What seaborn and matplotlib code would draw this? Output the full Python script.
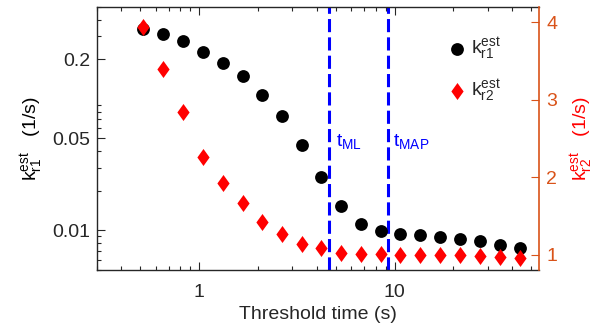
import matplotlib
matplotlib.use("Agg")
import matplotlib.pyplot as plt
import matplotlib.ticker as mticker
import matplotlib.transforms as mtransforms
import seaborn as sns
import pandas as pd

# ---- data ----
threshold_time = [0.517, 0.654, 0.828, 1.048, 1.327, 1.667, 2.100, 2.638, 3.339, 4.224,
                  5.346, 6.709, 8.49, 10.68, 13.55, 17.15, 21.6, 27.23, 34.45, 43.6]
k_r1 = [0.340, 0.312, 0.277, 0.229, 0.188, 0.150, 0.107, 0.0743, 0.0445, 0.0255,
        0.01524, 0.01111, 0.00988, 0.00944, 0.00916, 0.00889, 0.00854, 0.00824, 0.00778, 0.00733]
k_r2 = [3.94, 3.40, 2.847, 2.264, 1.920, 1.661, 1.422, 1.263, 1.142, 1.078,
        1.026, 1.013, 1.004, 1.0, 1.0, 1.0, 0.99, 0.985, 0.97, 0.95]
t_lines = [4.62, 9.29]
t_labels = [r"t$_{\mathregular{ML}}$", r"t$_{\mathregular{MAP}}$"]
t_label_x = [5.0, 9.82]
x_ticks = [1, 10]
x_ticklabels = ["1", "10"]
y1_ticks = [0.01, 0.05, 0.2]
y1_ticklabels = ["0.01", "0.05", "0.2"]
y2_ticks = [1, 2, 3, 4]
y2_ticklabels = ["1", "2", "3", "4"]

df = pd.DataFrame({"t": threshold_time, "k1": k_r1, "k2": k_r2})

sns.set_theme(style="white")
plt.rcParams["font.family"] = ["Liberation Sans", "DejaVu Sans"]
plt.rcParams["mathtext.fontset"] = "custom"
plt.rcParams["mathtext.rm"] = "Liberation Sans"
plt.rcParams["font.size"] = 14

DARK = "#262626"
ORANGE = "#D95319"

fig = plt.figure(figsize=(6.08, 3.28), dpi=100)
ax = fig.add_axes([97 / 608, 1 - 270 / 328, (539.3 - 97) / 608, (270 - 7) / 328])
ax2 = ax.twinx()

sns.scatterplot(data=df, x="t", y="k1", ax=ax, color="black", marker="o", s=85,
                linewidth=0, legend=False, zorder=3)
diamond = [(0, 1), (0.72, 0), (0, -1), (-0.72, 0), (0, 1)]
sns.scatterplot(data=df, x="t", y="k2", ax=ax2, color="red", marker=diamond, s=150,
                linewidth=0, legend=False, zorder=3)

for xv in t_lines:
    ax.axvline(xv, color="blue", lw=2.2, dashes=(4.3, 1.7), zorder=2)
trans = mtransforms.blended_transform_factory(ax.transData, ax.transAxes)
for xv, lab in zip(t_label_x, t_labels):
    ax.text(xv, 0.468, lab, color="blue", fontsize=14, transform=trans,
            ha="left", va="baseline")

ax.set_xscale("log")
ax.set_yscale("log")
ax.set_xlim(0.3, 55)
ax.set_ylim(0.005, 0.5)
ax.set_xticks(x_ticks)
ax.set_xticklabels(x_ticklabels)
ax.set_yticks(y1_ticks)
ax.set_yticklabels(y1_ticklabels)
ax.xaxis.set_minor_locator(mticker.LogLocator(base=10, subs=range(2, 10)))
ax.yaxis.set_minor_locator(mticker.LogLocator(base=10, subs=range(2, 10)))
ax.xaxis.set_minor_formatter(mticker.NullFormatter())
ax.yaxis.set_minor_formatter(mticker.NullFormatter())

ax2.set_ylim(0.8, 4.2)
ax2.set_yticks(y2_ticks)
ax2.set_yticklabels(y2_ticklabels)

ax.tick_params(which="both", direction="in", top=True, right=False, left=True, bottom=True,
               color=DARK, labelcolor=DARK, width=0.8, labelsize=14)
ax.tick_params(which="major", length=6)
ax.tick_params(which="minor", length=3)
ax.tick_params(axis="x", pad=10)
ax.tick_params(axis="y", pad=5)
ax2.tick_params(axis="y", which="both", direction="in", length=6, width=0.8,
                color=ORANGE, labelcolor=ORANGE, labelsize=14, pad=5)

for s in ["left", "top", "bottom"]:
    ax.spines[s].set_color(DARK)
    ax.spines[s].set_linewidth(1.0)
ax.spines["right"].set_visible(False)
for s in ["left", "top", "bottom"]:
    ax2.spines[s].set_visible(False)
ax2.spines["right"].set_color(ORANGE)
ax2.spines["right"].set_linewidth(1.2)

ax.set_xlabel("Threshold time (s)", color=DARK, fontsize=14, labelpad=4)
ax.set_ylabel(r"$\mathregular{k_{r1}^{est}}$   (1/s)", color="black", fontsize=14, labelpad=5)
ax2.set_ylabel(r"$\mathregular{k_{r2}^{est}}$   (1/s)", color="red", fontsize=14, labelpad=8)

handles = [ax.collections[0], ax2.collections[0]]
labels = [r"$\mathregular{k_{r1}^{est}}$", r"$\mathregular{k_{r2}^{est}}$"]
ax2.legend(handles, labels, loc="upper left", bbox_to_anchor=(0.77, 0.93),
           frameon=False, handlelength=1.0, handletextpad=0.2, labelspacing=0.8,
           borderpad=0, fontsize=14)

fig.savefig("out.png", dpi=100)
